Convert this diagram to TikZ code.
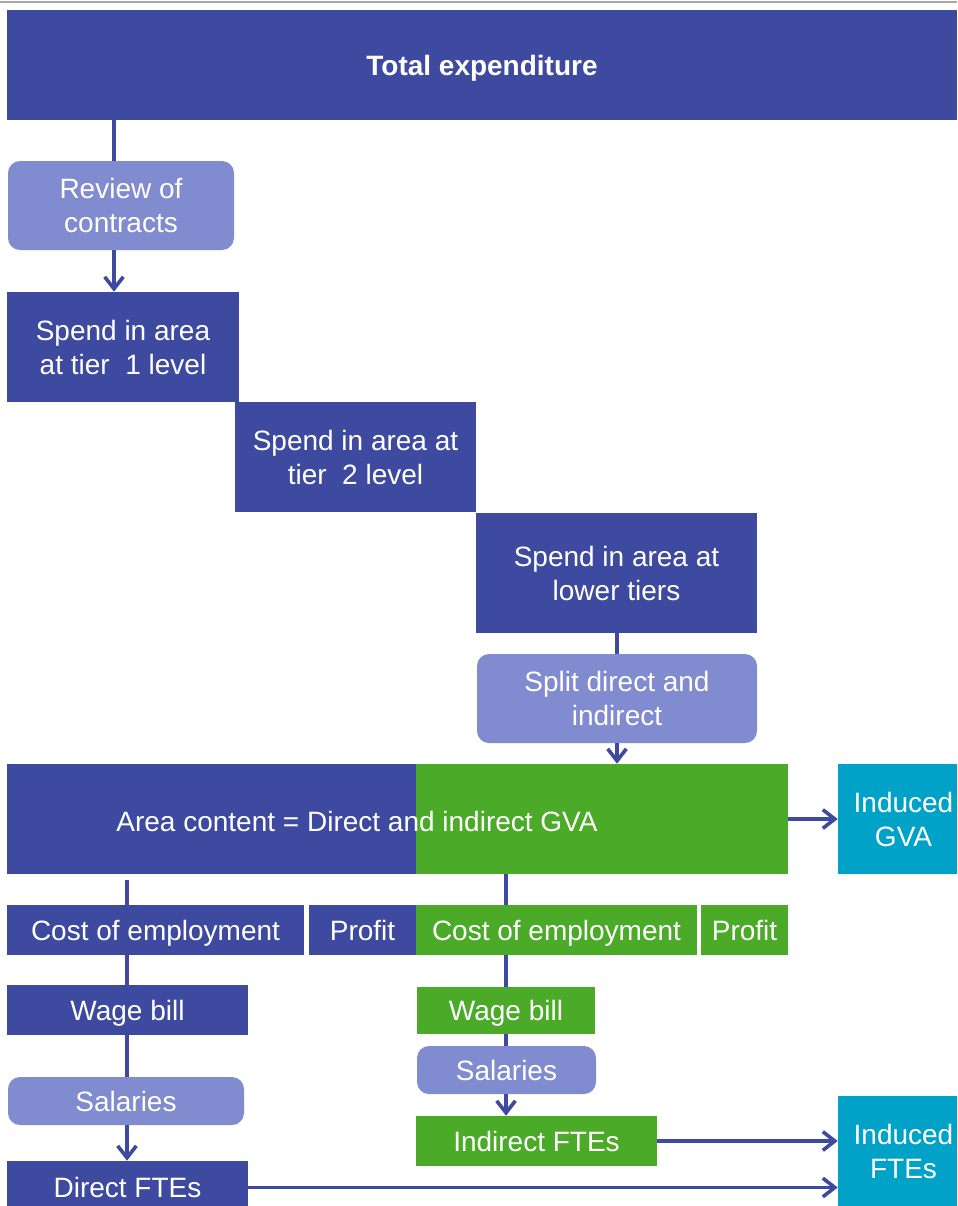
\documentclass[tikz,border=0pt]{standalone}
\usepackage{fontspec}
\setmainfont{Liberation Sans}
\usetikzlibrary{arrows.meta,positioning}
\definecolor{dkblue}{RGB}{62,74,159}
\definecolor{ltblue}{RGB}{128,139,208}
\definecolor{grn}{RGB}{75,171,41}
\definecolor{cyn}{RGB}{0,162,200}

\begin{document}
\begin{tikzpicture}[x=0.75pt, y=-0.75pt,
  font=\fontsize{21pt}{25.5pt}\selectfont,
  wh/.style 2 args={minimum width=#1*0.75pt, minimum height=#2*0.75pt},
  box/.style={fill=dkblue, text=white, inner sep=0pt, align=center,
              text depth=0pt},
  lbox/.style={box, fill=ltblue, rounded corners=9pt},
  gbox/.style={box, fill=grn},
  cbox/.style={box, fill=cyn},
  conn/.style={draw=dkblue, line width=2.7pt},
  arr/.style={conn, -{Straight Barb[length=9pt, width=14pt]}}]
\useasboundingbox (0,0) rectangle (957,1206);
\draw[gray!70, line width=1.5pt] (0,2) -- (957,2);
% ---- spend cascade ----
\node[box, wh={950}{110}] (total) at (482,65) {\bfseries Total expenditure};
\node[lbox, wh={226}{89}] (review) at (121,205.5) {Review of\\contracts};
\node[box, wh={232}{110}] (tier1) at (123,347) {Spend in area\\at tier\ \ 1 level};
\node[box, wh={241}{110}] (tier2) at (355.5,457) {Spend in area at\\tier\ \ 2 level};
\node[box, wh={281}{120}] (lower) at (616.5,573) {Spend in area at\\lower tiers};
\node[lbox, wh={280}{89}] (split) at (617,698.5) {Split direct and\\indirect};
\coordinate (c1) at (114,0);
\coordinate (c2) at (617,0);
\draw[conn] (c1 |- total.south) -- (c1 |- review.north);
\draw[arr] (c1 |- review.south) -- (c1 |- tier1.north);
\draw[conn] (c2 |- lower.south) -- (c2 |- split.north);
% ---- area content ----
\node[box, wh={409}{110}] (areaD) at (211.5,819) {};
\node[gbox, wh={372}{110}] (areaI) at (602,819) {};
\node[text=white] (area) at (357,821) {Area content = Direct and indirect GVA};
\node[cbox, wh={119}{110}] (indGVA) at (897.5,819)
  {\hspace*{9pt}Induced\\\hspace*{9pt}GVA};
\draw[arr] (c2 |- split.south) -- (c2 |- areaI.north);
\draw[arr] (areaI.east) -- (indGVA.west);
% ---- split of GVA ----
\node[box, wh={297}{50}] (coeD) at (155.5,930) {Cost of employment};
\node[box, wh={107}{50}] (profD) at (362.5,930) {Profit};
\node[gbox, wh={281}{50}] (coeI) at (556.5,930) {Cost of employment};
\node[gbox, wh={87}{50}] (profI) at (744.5,930) {Profit};
\coordinate (c3) at (127,0);
\coordinate (c4) at (506,0);
\draw[conn] ([yshift=-4.5pt]c3 |- areaD.south) -- (c3 |- coeD.north);
\draw[conn] (c4 |- areaI.south) -- (c4 |- coeI.north);
% ---- direct column ----
\node[box, wh={241}{50}] (wageD) at (127.5,1010) {Wage bill};
\node[lbox, wh={236}{48}] (salD) at (126,1101) {Salaries};
\node[box, wh={241}{53}] (ftesD) at (127.5,1187.5) {Direct FTEs};
\draw[conn] (c3 |- coeD.south) -- (c3 |- wageD.north);
\draw[conn] (c3 |- wageD.south) -- (c3 |- salD.north);
\draw[arr] (c3 |- salD.south) -- (c3 |- ftesD.north);
% ---- indirect column ----
\node[gbox, wh={178}{47}] (wageI) at (506,1010.5) {Wage bill};
\node[lbox, wh={179}{48}] (salI) at (506.5,1070) {Salaries};
\node[gbox, wh={241}{50}] (ftesI) at (536.5,1141) {Indirect FTEs};
\node[cbox, wh={119}{110}] (indFTE) at (897.5,1151)
  {\hspace*{9pt}Induced\\\hspace*{9pt}FTEs};
\draw[conn] (c4 |- coeI.south) -- (c4 |- wageI.north);
\draw[conn] (c4 |- wageI.south) -- (c4 |- salI.north);
\draw[arr] (c4 |- salI.south) -- (c4 |- ftesI.north);
\draw[arr] (ftesI.east) -- (ftesI.east -| indFTE.west);
\draw[arr] (ftesD.east) -- (ftesD.east -| indFTE.west);
\end{tikzpicture}
\end{document}
